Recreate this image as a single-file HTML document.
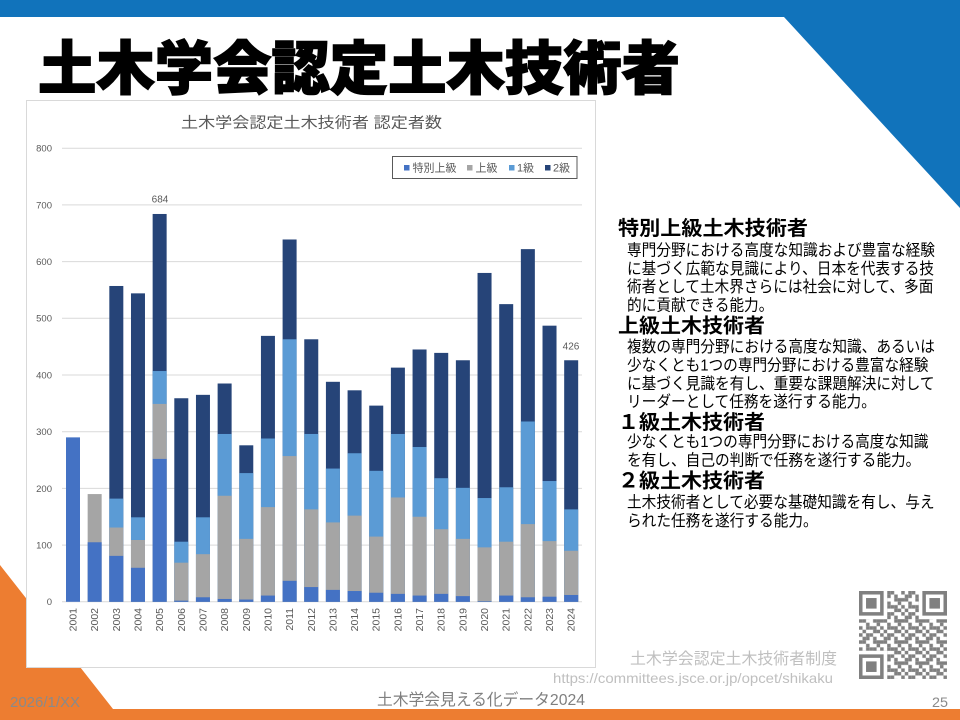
<!DOCTYPE html>
<html><head><meta charset="utf-8"><style>
html,body{margin:0;padding:0;background:#fff;}
svg{display:block;}
text{font-family:"Liberation Sans","Noto Sans CJK JP",sans-serif;}
</style></head><body>
<svg width="960" height="720" viewBox="0 0 960 720" xmlns="http://www.w3.org/2000/svg">
<defs>
<pattern id="qr" x="859" y="591" width="21.12" height="21.12" patternUnits="userSpaceOnUse">
<g fill="#808080">
<rect x="0" y="0" width="3.52" height="3.52"/><rect x="7.04" y="0" width="3.52" height="3.52"/><rect x="10.56" y="0" width="3.52" height="3.52"/>
<rect x="3.52" y="3.52" width="3.52" height="3.52"/><rect x="7.04" y="3.52" width="3.52" height="3.52"/><rect x="14.08" y="3.52" width="3.52" height="3.52"/>
<rect x="0" y="7.04" width="3.52" height="3.52"/><rect x="3.52" y="7.04" width="3.52" height="3.52"/><rect x="14.08" y="7.04" width="3.52" height="3.52"/><rect x="17.6" y="7.04" width="3.52" height="3.52"/>
<rect x="7.04" y="10.56" width="3.52" height="3.52"/><rect x="17.6" y="10.56" width="3.52" height="3.52"/>
<rect x="0" y="14.08" width="3.52" height="3.52"/><rect x="7.04" y="14.08" width="3.52" height="3.52"/><rect x="10.56" y="14.08" width="3.52" height="3.52"/><rect x="14.08" y="14.08" width="3.52" height="3.52"/>
<rect x="3.52" y="17.6" width="3.52" height="3.52"/><rect x="14.08" y="17.6" width="3.52" height="3.52"/><rect x="17.6" y="17.6" width="3.52" height="3.52"/>
</g>
</pattern>
</defs>

<rect x="0" y="0" width="960" height="720" fill="#fff"/>
<!-- top blue -->
<polygon points="0,0 960,0 960,208 784,17 0,17" fill="#1173BB"/>
<!-- bottom orange -->
<polygon points="0,565 113,709 960,709 960,720 0,720" fill="#ED7D31"/>

<!-- main title -->
<text x="38" y="89" font-size="58" font-weight="900" fill="#000" stroke="#000" stroke-width="1.5" textLength="642" lengthAdjust="spacingAndGlyphs">土木学会認定土木技術者</text>

<!-- chart box -->
<rect x="26.5" y="100.5" width="569" height="567" fill="#fff" stroke="#d9d9d9" stroke-width="1"/>
<text x="181" y="127.5" font-size="15" fill="#595959" textLength="261" lengthAdjust="spacingAndGlyphs">土木学会認定土木技術者 認定者数</text>

<!-- gridlines -->
<g stroke="#d9d9d9" stroke-width="1">
<line x1="62" x2="582" y1="148.2" y2="148.2"/>
<line x1="62" x2="582" y1="204.9" y2="204.9"/>
<line x1="62" x2="582" y1="261.6" y2="261.6"/>
<line x1="62" x2="582" y1="318.3" y2="318.3"/>
<line x1="62" x2="582" y1="375.0" y2="375.0"/>
<line x1="62" x2="582" y1="431.7" y2="431.7"/>
<line x1="62" x2="582" y1="488.4" y2="488.4"/>
<line x1="62" x2="582" y1="545.1" y2="545.1"/>
<line x1="62" x2="582" y1="601.8" y2="601.8"/>
</g>
<g font-size="9.5" fill="#595959" text-anchor="end">
<text x="52" y="151.6">800</text>
<text x="52" y="208.3">700</text>
<text x="52" y="265">600</text>
<text x="52" y="321.7">500</text>
<text x="52" y="378.4">400</text>
<text x="52" y="435.1">300</text>
<text x="52" y="491.8">200</text>
<text x="52" y="548.5">100</text>
<text x="52" y="605.2">0</text>
</g>

<!-- bars -->
<g transform="matrix(1 0 0 -0.567 0 601.8)">
<g fill="#264478">
<rect x="109.32" y="0" width="14" height="557"/>
<rect x="130.98" y="0" width="14" height="544"/>
<rect x="152.64" y="0" width="14" height="684"/>
<rect x="174.3" y="0" width="14" height="359"/>
<rect x="195.96" y="0" width="14" height="365"/>
<rect x="217.62" y="0" width="14" height="385"/>
<rect x="239.28" y="0" width="14" height="276"/>
<rect x="260.94" y="0" width="14" height="469"/>
<rect x="282.6" y="0" width="14" height="639"/>
<rect x="304.26" y="0" width="14" height="463"/>
<rect x="325.92" y="0" width="14" height="388"/>
<rect x="347.58" y="0" width="14" height="373"/>
<rect x="369.24" y="0" width="14" height="346"/>
<rect x="390.9" y="0" width="14" height="413"/>
<rect x="412.56" y="0" width="14" height="445"/>
<rect x="434.22" y="0" width="14" height="439"/>
<rect x="455.88" y="0" width="14" height="426"/>
<rect x="477.54" y="0" width="14" height="580"/>
<rect x="499.2" y="0" width="14" height="525"/>
<rect x="520.86" y="0" width="14" height="622"/>
<rect x="542.52" y="0" width="14" height="487"/>
<rect x="564.18" y="0" width="14" height="426"/>
</g>
<g fill="#5B9BD5">
<rect x="109.32" y="0" width="14" height="182"/>
<rect x="130.98" y="0" width="14" height="149"/>
<rect x="152.64" y="0" width="14" height="407"/>
<rect x="174.3" y="0" width="14" height="106"/>
<rect x="195.96" y="0" width="14" height="149"/>
<rect x="217.62" y="0" width="14" height="296"/>
<rect x="239.28" y="0" width="14" height="227"/>
<rect x="260.94" y="0" width="14" height="288"/>
<rect x="282.6" y="0" width="14" height="463"/>
<rect x="304.26" y="0" width="14" height="296"/>
<rect x="325.92" y="0" width="14" height="235"/>
<rect x="347.58" y="0" width="14" height="262"/>
<rect x="369.24" y="0" width="14" height="231"/>
<rect x="390.9" y="0" width="14" height="296"/>
<rect x="412.56" y="0" width="14" height="273"/>
<rect x="434.22" y="0" width="14" height="218"/>
<rect x="455.88" y="0" width="14" height="201"/>
<rect x="477.54" y="0" width="14" height="183"/>
<rect x="499.2" y="0" width="14" height="202"/>
<rect x="520.86" y="0" width="14" height="318"/>
<rect x="542.52" y="0" width="14" height="213"/>
<rect x="564.18" y="0" width="14" height="163"/>
</g>
<g fill="#A5A5A5">
<rect x="87.66" y="0" width="14" height="190"/>
<rect x="109.32" y="0" width="14" height="131"/>
<rect x="130.98" y="0" width="14" height="109"/>
<rect x="152.64" y="0" width="14" height="349"/>
<rect x="174.3" y="0" width="14" height="69"/>
<rect x="195.96" y="0" width="14" height="84"/>
<rect x="217.62" y="0" width="14" height="187"/>
<rect x="239.28" y="0" width="14" height="111"/>
<rect x="260.94" y="0" width="14" height="167"/>
<rect x="282.6" y="0" width="14" height="257"/>
<rect x="304.26" y="0" width="14" height="163"/>
<rect x="325.92" y="0" width="14" height="140"/>
<rect x="347.58" y="0" width="14" height="152"/>
<rect x="369.24" y="0" width="14" height="115"/>
<rect x="390.9" y="0" width="14" height="184"/>
<rect x="412.56" y="0" width="14" height="150"/>
<rect x="434.22" y="0" width="14" height="128"/>
<rect x="455.88" y="0" width="14" height="111"/>
<rect x="477.54" y="0" width="14" height="96"/>
<rect x="499.2" y="0" width="14" height="106"/>
<rect x="520.86" y="0" width="14" height="137"/>
<rect x="542.52" y="0" width="14" height="107"/>
<rect x="564.18" y="0" width="14" height="90"/>
</g>
<g fill="#4472C4">
<rect x="66" y="0" width="14" height="290"/>
<rect x="87.66" y="0" width="14" height="105"/>
<rect x="109.32" y="0" width="14" height="81"/>
<rect x="130.98" y="0" width="14" height="60"/>
<rect x="152.64" y="0" width="14" height="252"/>
<rect x="174.3" y="0" width="14" height="2"/>
<rect x="195.96" y="0" width="14" height="8"/>
<rect x="217.62" y="0" width="14" height="5"/>
<rect x="239.28" y="0" width="14" height="4"/>
<rect x="260.94" y="0" width="14" height="11"/>
<rect x="282.6" y="0" width="14" height="37"/>
<rect x="304.26" y="0" width="14" height="26"/>
<rect x="325.92" y="0" width="14" height="21"/>
<rect x="347.58" y="0" width="14" height="19"/>
<rect x="369.24" y="0" width="14" height="16"/>
<rect x="390.9" y="0" width="14" height="14"/>
<rect x="412.56" y="0" width="14" height="11"/>
<rect x="434.22" y="0" width="14" height="14"/>
<rect x="455.88" y="0" width="14" height="10"/>
<rect x="477.54" y="0" width="14" height="1"/>
<rect x="499.2" y="0" width="14" height="11"/>
<rect x="520.86" y="0" width="14" height="8"/>
<rect x="542.52" y="0" width="14" height="9"/>
<rect x="564.18" y="0" width="14" height="12"/>
</g>
</g>

<!-- data labels -->
<text x="160" y="202.6" font-size="10" fill="#595959" text-anchor="middle">684</text>
<text x="571" y="349.3" font-size="10" fill="#595959" text-anchor="middle">426</text>

<!-- x labels -->
<g font-size="10.5" fill="#595959" text-anchor="end">
<text transform="translate(76.5,608) rotate(-90)">2001</text>
<text transform="translate(98.16,608) rotate(-90)">2002</text>
<text transform="translate(119.82,608) rotate(-90)">2003</text>
<text transform="translate(141.48,608) rotate(-90)">2004</text>
<text transform="translate(163.14,608) rotate(-90)">2005</text>
<text transform="translate(184.8,608) rotate(-90)">2006</text>
<text transform="translate(206.46,608) rotate(-90)">2007</text>
<text transform="translate(228.12,608) rotate(-90)">2008</text>
<text transform="translate(249.78,608) rotate(-90)">2009</text>
<text transform="translate(271.44,608) rotate(-90)">2010</text>
<text transform="translate(293.1,608) rotate(-90)">2011</text>
<text transform="translate(314.76,608) rotate(-90)">2012</text>
<text transform="translate(336.42,608) rotate(-90)">2013</text>
<text transform="translate(358.08,608) rotate(-90)">2014</text>
<text transform="translate(379.74,608) rotate(-90)">2015</text>
<text transform="translate(401.4,608) rotate(-90)">2016</text>
<text transform="translate(423.06,608) rotate(-90)">2017</text>
<text transform="translate(444.72,608) rotate(-90)">2018</text>
<text transform="translate(466.38,608) rotate(-90)">2019</text>
<text transform="translate(488.04,608) rotate(-90)">2020</text>
<text transform="translate(509.7,608) rotate(-90)">2021</text>
<text transform="translate(531.36,608) rotate(-90)">2022</text>
<text transform="translate(553.02,608) rotate(-90)">2023</text>
<text transform="translate(574.68,608) rotate(-90)">2024</text>
</g>

<!-- legend -->
<rect x="392.5" y="156.5" width="184.5" height="22" fill="#fff" stroke="#595959" stroke-width="1"/>
<rect x="404" y="165" width="5.5" height="5.5" fill="#4472C4"/>
<text x="412.5" y="171.7" font-size="11" fill="#595959" textLength="44" lengthAdjust="spacingAndGlyphs">特別上級</text>
<rect x="467" y="165" width="5.5" height="5.5" fill="#A5A5A5"/>
<text x="475.5" y="171.7" font-size="11" fill="#595959" textLength="22" lengthAdjust="spacingAndGlyphs">上級</text>
<rect x="509" y="165" width="5.5" height="5.5" fill="#5B9BD5"/>
<text x="517" y="171.7" font-size="11" fill="#595959" textLength="17" lengthAdjust="spacingAndGlyphs">1級</text>
<rect x="545" y="165" width="5.5" height="5.5" fill="#264478"/>
<text x="553" y="171.7" font-size="11" fill="#595959" textLength="17" lengthAdjust="spacingAndGlyphs">2級</text>

<!-- right panel headings -->
<g font-size="20" font-weight="bold" fill="#000">
<text x="618" y="235" textLength="190" lengthAdjust="spacingAndGlyphs">特別上級土木技術者</text>
<text x="618" y="332.6" textLength="147" lengthAdjust="spacingAndGlyphs">上級土木技術者</text>
<text x="618" y="429.1" textLength="147" lengthAdjust="spacingAndGlyphs">１級土木技術者</text>
<text x="618" y="487.6" textLength="147" lengthAdjust="spacingAndGlyphs">２級土木技術者</text>
</g>
<!-- right panel body -->
<g transform="translate(627,0) scale(0.917,1)" font-size="16" fill="#000">
<text x="0" y="255.6">専門分野における高度な知識および豊富な経験</text>
<text x="0" y="273.8">に基づく広範な見識により、日本を代表する技</text>
<text x="0" y="292.1">術者として土木界さらには社会に対して、多面</text>
<text x="0" y="310.3">的に貢献できる能力。</text>
<text x="0" y="352.1">複数の専門分野における高度な知識、あるいは</text>
<text x="0" y="370.6">少なくとも1つの専門分野における豊富な経験</text>
<text x="0" y="389.1">に基づく見識を有し、重要な課題解決に対して</text>
<text x="0" y="407.1">リーダーとして任務を遂行する能力。</text>
<text x="0" y="447.1">少なくとも1つの専門分野における高度な知識</text>
<text x="0" y="465.6">を有し、自己の判断で任務を遂行する能力。</text>
<text x="0" y="507.6">土木技術者として必要な基礎知識を有し、与え</text>
<text x="0" y="526.1">られた任務を遂行する能力。</text>
</g>

<!-- QR code -->
<rect x="859" y="591" width="88" height="88" fill="url(#qr)"/>
<g fill="#fff">
<rect x="859" y="591" width="28.16" height="28.16"/>
<rect x="918.84" y="591" width="28.16" height="28.16"/>
<rect x="859" y="650.84" width="28.16" height="28.16"/>
</g>
<g fill="#808080">
<rect x="859" y="591" width="24.64" height="24.64"/>
<rect x="922.36" y="591" width="24.64" height="24.64"/>
<rect x="859" y="654.36" width="24.64" height="24.64"/>
</g>
<g fill="#fff">
<rect x="862.52" y="594.52" width="17.6" height="17.6"/>
<rect x="925.88" y="594.52" width="17.6" height="17.6"/>
<rect x="862.52" y="657.88" width="17.6" height="17.6"/>
</g>
<g fill="#808080">
<rect x="866.04" y="598.04" width="10.56" height="10.56"/>
<rect x="929.4" y="598.04" width="10.56" height="10.56"/>
<rect x="866.04" y="661.4" width="10.56" height="10.56"/>
</g>

<!-- footer texts -->
<text x="630" y="664" font-size="16" fill="#bfbfbf" textLength="207" lengthAdjust="spacingAndGlyphs">土木学会認定土木技術者制度</text>
<text x="553" y="683" font-size="14" fill="#bfbfbf" textLength="280" lengthAdjust="spacingAndGlyphs">https://committees.jsce.or.jp/opcet/shikaku</text>
<text x="377" y="705" font-size="16" fill="#7f7f7f" textLength="208" lengthAdjust="spacingAndGlyphs">土木学会見える化データ2024</text>
<text x="10" y="707" font-size="15" fill="#8a8a8a" textLength="70" lengthAdjust="spacingAndGlyphs">2026/1/XX</text>
<text x="932" y="707" font-size="14" fill="#8a8a8a" textLength="16" lengthAdjust="spacingAndGlyphs">25</text>
</svg>
</body></html>
